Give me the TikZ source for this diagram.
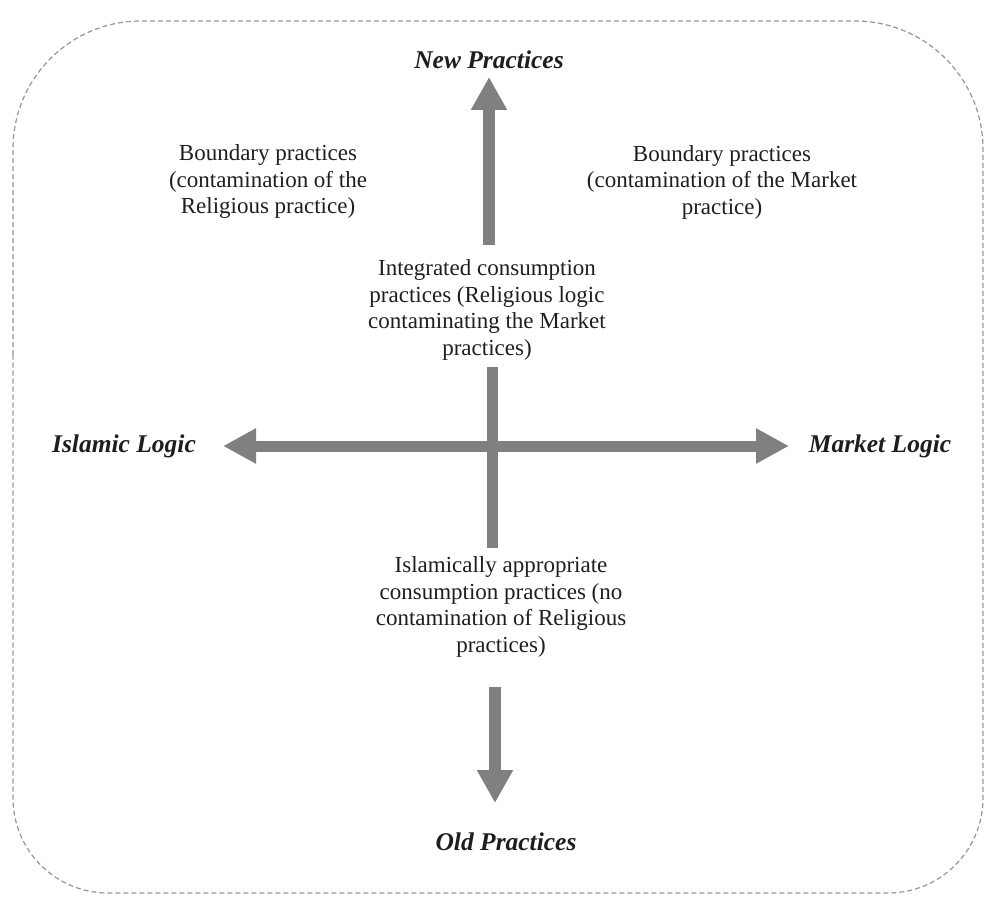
\documentclass[tikz,border=0pt]{standalone}
\usepackage{fontspec}
\setmainfont{Liberation Serif}
\usetikzlibrary{arrows.meta}
\definecolor{shaft}{RGB}{128,128,128}
\definecolor{framegray}{RGB}{150,150,150}
\definecolor{ink}{RGB}{30,30,30}
\begin{document}
\begin{tikzpicture}[x=1pt,y=-1pt,
  frame/.style={draw=framegray,line width=1.2pt,dash pattern=on 5pt off 3pt},
  body/.style={align=center,text=ink,inner sep=0pt,font=\fontsize{23}{26.5}\selectfont},
  axislabel/.style={text=ink,inner sep=0pt,font=\fontsize{25.5}{28}\selectfont\bfseries\itshape},
  thickarrow/.style={draw=shaft,line width=12pt,-{Triangle[width=34pt,length=33pt]}},
  twoheaded/.style={draw=shaft,line width=11pt,{Triangle[width=33pt,length=33pt]}-{Triangle[width=33pt,length=33pt]}},
  plainbar/.style={draw=shaft,line width=11pt}]
\useasboundingbox (0,0) rectangle (984,896);

% dashed rounded frame
\draw[frame] (13,450) [rounded corners=128pt] -- (13,21) -- (983,21) -- (983,450)
  [rounded corners=95pt] -- (983,893) -- (13,893) -- cycle;

% axis labels
\node[axislabel] (newp) at (489,60) {New Practices};
\node[axislabel] (oldp) at (506,842) {Old Practices};
\node[axislabel] (islam) at (124,446) {Islamic Logic};
\node[axislabel] (market) at (880,446) {Market Logic};

% quadrant texts
\node[body] (bleft) at (268,182) {Boundary practices\\(contamination of the\\Religious practice)};
\node[body] (bright) at (722,182) {Boundary practices\\(contamination of the Market\\practice)};
\node[body] (integ) at (487,310) {Integrated consumption\\practices (Religious logic\\contaminating the Market\\practices)};
\node[body] (approp) at (501,607) {Islamically appropriate\\consumption practices (no\\contamination of Religious\\practices)};

% arrow end points
\coordinate (upfoot) at (489,245);
\coordinate (uptip) at (489,77);
\coordinate (dnfoot) at (495,687);
\coordinate (dntip) at (495,803);
\coordinate (lefttip) at (223,446);
\coordinate (righttip) at (789,446);
\coordinate (bartop) at (492,367);
\coordinate (barbot) at (492,548);

% axes
\draw[plainbar] (bartop) -- (barbot);
\draw[twoheaded] (lefttip) -- (righttip);
\draw[thickarrow] (upfoot) -- (uptip);
\draw[thickarrow] (dnfoot) -- (dntip);
\end{tikzpicture}
\end{document}
